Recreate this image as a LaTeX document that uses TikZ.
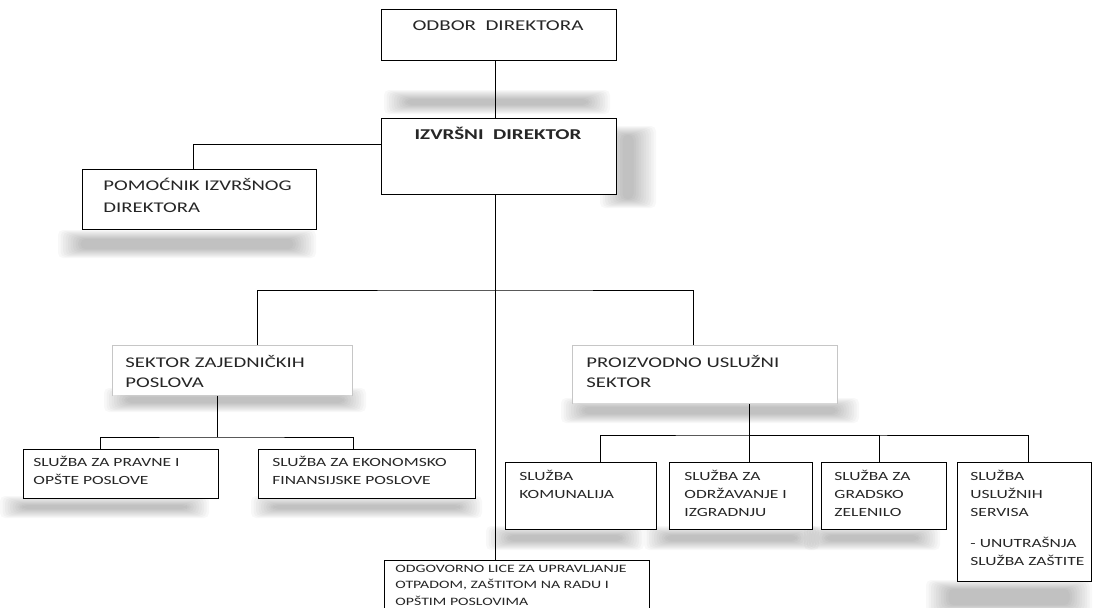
\documentclass[tikz,border=0pt]{standalone}
\usepackage{fontspec}
\setmainfont{Carlito}[FakeStretch=1.4]
\usepackage{tikz}
\usetikzlibrary{positioning}

% soft grey band standing in for the drop shadows
\newcommand{\haze}[4]{%
  \foreach \k in {0,...,9}
    \fill[black, opacity=0.026, rounded corners=5pt]
      (#1+\k*2.5, #2+\k*1) rectangle (#3-\k*2.5, #4-\k*1);
}

\begin{document}
\begin{tikzpicture}[x=1pt, y=-1pt, line width=0.9pt]
    \tikzstyle{unit} = [draw, inner sep=0pt, anchor=north west]
    \tikzstyle{sector} = [inner sep=0pt, anchor=north west]
    \tikzstyle{sector edge} = [draw=gray!45, line width=1pt]
    \tikzstyle{caption} = [inner sep=0pt, anchor=base west, align=left, text=black!85]
    \tikzstyle{lead} = [font=\fontsize{15}{23}\selectfont]
    \tikzstyle{mid} = [font=\fontsize{14.8}{20}\selectfont]
    \tikzstyle{small} = [font=\fontsize{12.5}{18}\selectfont]
    \tikzstyle{tiny} = [font=\fontsize{11.3}{16.5}\selectfont]
    \useasboundingbox (0,0) rectangle (1093,608);

    \haze{384}{90}{610}{114}
    \haze{600}{126}{656}{208}
    \haze{58}{230}{316}{258}
    \haze{104}{388}{366}{412}
    \haze{561}{398}{859}{423}
    \haze{0}{496}{209}{518}
    \haze{251}{496}{482}{518}
    \haze{486}{526}{644}{550}
    \haze{644}{526}{819}{550}
    \haze{804}{526}{940}{550}
    \haze{926}{580}{1092}{614}

    \node [unit, fill=white, minimum width=235pt, minimum height=51pt] at (381,9) (odbor) {};
    \node [unit, fill=white, minimum width=235pt, minimum height=76pt] at (381,118) (izvrsni) {};
    \node [unit, fill=white, minimum width=234pt, minimum height=60pt] at (82,169) (pomocnik) {};
    \node [sector, fill=white, minimum width=240pt, minimum height=50pt] at (112,345) (sektor) {};
    \node [sector, fill=white, minimum width=265pt, minimum height=58pt] at (572,345) (proizvodno) {};
    \node [unit, fill=white, minimum width=195pt, minimum height=49pt] at (23,449) (pravne) {};
    \node [unit, fill=white, minimum width=217pt, minimum height=49pt] at (258,449) (ekonomsko) {};
    \node [unit, fill=white, minimum width=151pt, minimum height=67pt] at (505,462) (komunalije) {};
    \node [unit, fill=white, minimum width=143pt, minimum height=67pt] at (669,462) (odrzavanje) {};
    \node [unit, fill=white, minimum width=125pt, minimum height=67pt] at (821,462) (zelenilo) {};
    \node [unit, fill=white, minimum width=134pt, minimum height=119pt] at (957,462) (usluzni) {};
    \node [sector, fill=white, minimum width=265pt, minimum height=48pt] at (384,560) (odgovorno) {};

    \draw[sector edge] (sektor.south west) -- (sektor.north west) -- (sektor.north east) -- (sektor.south east);
    \draw[sector edge] (proizvodno.south west) -- (proizvodno.north west) -- (proizvodno.north east) -- (proizvodno.south east);
    \draw (odgovorno.south west) -- (odgovorno.north west) -- (odgovorno.north east) -- (odgovorno.south east);

    \node [caption, lead, anchor=base] at (498,30) (odbor-t) {ODBOR\ \ DIREKTORA};
    \node [caption, font=\fontsize{15}{23}\selectfont\bfseries, anchor=base] at (498,139) (izvrsni-t) {IZVRŠNI\ \ DIREKTOR};
    \node [caption, font=\fontsize{14.8}{22}\selectfont] at (103,212) (pomocnik-t) {POMOĆNIK IZVRŠNOG\\DIREKTORA};
    \node [caption, mid] at (125,387) (sektor-t) {SEKTOR ZAJEDNIČKIH\\POSLOVA};
    \node [caption, mid] at (586,387) (proizvodno-t) {PROIZVODNO USLUŽNI\\SEKTOR};
    \node [caption, small] at (33,484) (pravne-t) {SLUŽBA ZA PRAVNE I\\OPŠTE POSLOVE};
    \node [caption, small] at (272,484) (ekonomsko-t) {SLUŽBA ZA EKONOMSKO\\FINANSIJSKE POSLOVE};
    \node [caption, small] at (519,498) (komunalije-t) {SLUŽBA\\KOMUNALIJA};
    \node [caption, small] at (684,516) (odrzavanje-t) {SLUŽBA ZA\\ODRŽAVANJE I\\IZGRADNJU};
    \node [caption, small] at (834,516) (zelenilo-t) {SLUŽBA ZA\\GRADSKO\\ZELENILO};
    \node [caption, small] at (970,565) (usluzni-t) {SLUŽBA\\USLUŽNIH\\SERVISA\\[13pt]- UNUTRAŠNJA\\SLUŽBA ZAŠTITE};
    \node [caption, tiny] at (395,605) (odgovorno-t) {ODGOVORNO LICE ZA UPRAVLJANJE\\OTPADOM, ZAŠTITOM NA RADU I\\OPŠTIM POSLOVIMA};

    \coordinate (fork) at (495,290);
    \coordinate (leftfork) at (217,437);
    \coordinate (rightfork) at (749,435);

    \draw (odbor.south -| fork) -- (izvrsni.north -| fork);
    \draw ([yshift=-26pt]izvrsni.north west) -| ([xshift=-6pt]pomocnik.north);
    \draw (izvrsni.south -| fork) -- (odgovorno.north -| fork);
    \draw ([xshift=25pt]sektor.north) |- (fork) -| ([xshift=-11.5pt]proizvodno.north);
    \draw (sektor.south -| leftfork) -- (leftfork);
    \draw ([xshift=-21pt]pravne.north) |- (leftfork) -| ([xshift=-14pt]ekonomsko.north);
    \draw (proizvodno.south -| rightfork) -- (odrzavanje.north -| rightfork);
    \draw ([xshift=19.5pt]komunalije.north) |- (rightfork) -| ([xshift=4pt]usluzni.north);
    \draw ([xshift=-4.5pt]zelenilo.north) |- (rightfork);
\end{tikzpicture}
\end{document}
